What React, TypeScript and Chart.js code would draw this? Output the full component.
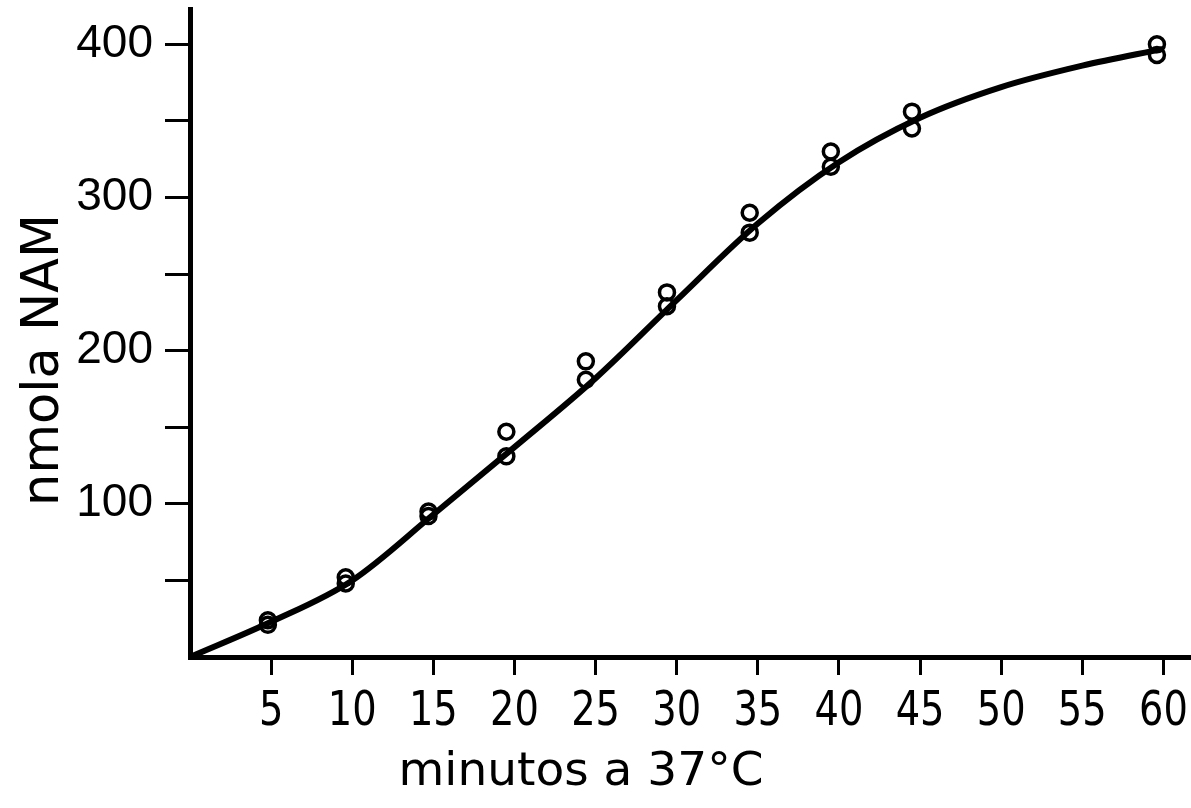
import React, { useEffect, useRef } from "react";
import { Chart, registerables } from "chart.js";

Chart.register(...registerables);

// Measured replicates (minutes at 37 °C vs nmol NAM)
const timeMin = [4.8, 9.6, 14.7, 19.5, 24.4, 29.4, 34.5, 39.5, 44.5, 59.6];
const replicateA = [24, 52, 95, 147, 193, 238, 290, 330, 356, 400];
const replicateB = [21, 48, 92, 131, 181, 229, 277, 320, 345, 393];

// Hand-drawn fitted curve
const curveX = [0, 5, 10, 15, 20, 25, 30, 35, 40, 45, 50, 55, 60];
const curveY = [0, 23, 50, 93, 137, 182, 233, 283, 323, 352, 372, 386, 397];

// Axis ticks
const xTickValues = [5, 10, 15, 20, 25, 30, 35, 40, 45, 50, 55, 60];
const yTickValues = [50, 100, 150, 200, 250, 300, 350, 400];
const yLabelledTicks = [100, 200, 300, 400];

const xTitle = "minutos a 37°C";
const yTitle = "nmola NAM";

// Draws the narrow x tick labels and the two axis titles
const textPlugin = {
  id: "handText",
  afterDraw(chart: any) {
    const ctx = chart.ctx;
    const xs = chart.scales.x;
    ctx.save();
    ctx.fillStyle = "#000";
    ctx.textAlign = "center";
    ctx.textBaseline = "alphabetic";
    ctx.font = "48px 'DejaVu Sans'";
    const sx = 0.8;
    xTickValues.forEach((v) => {
      const px = xs.getPixelForValue(v);
      ctx.save();
      ctx.translate(px, 725);
      ctx.scale(sx, 1);
      ctx.fillText(String(v), 0, 0);
      ctx.restore();
    });
    ctx.textBaseline = "middle";
    ctx.font = "47px 'DejaVu Sans'";
    ctx.fillText(xTitle, 581, 773);
    ctx.translate(45, 360);
    ctx.rotate(-Math.PI / 2);
    ctx.font = "51px 'DejaVu Sans'";
    ctx.fillText(yTitle, 0, 0);
    ctx.restore();
  },
};

export default function App() {
  const canvasRef = useRef<HTMLCanvasElement | null>(null);

  useEffect(() => {
    document.body.style.margin = "0";
    const canvas = canvasRef.current;
    if (!canvas) return;

    const points = [
      ...timeMin.map((x, i) => ({ x, y: replicateA[i] })),
      ...timeMin.map((x, i) => ({ x, y: replicateB[i] })),
    ];
    const curve = curveX.map((x, i) => ({ x, y: curveY[i] }));

    const chart = new Chart(canvas, {
      type: "scatter",
      data: {
        datasets: [
          {
            label: "curve",
            data: curve,
            showLine: true,
            borderColor: "#000",
            borderWidth: 6,
            pointRadius: 0,
            cubicInterpolationMode: "monotone",
            fill: false,
          },
          {
            label: "replicates",
            data: points,
            showLine: false,
            pointRadius: 7.5,
            pointBorderWidth: 3.5,
            pointBorderColor: "#000",
            pointBackgroundColor: "rgba(0,0,0,0)",
          },
        ],
      },
      options: {
        responsive: false,
        animation: false,
        layout: { autoPadding: false, padding: { top: 9, right: 0, left: 0, bottom: 0 } },
        plugins: {
          legend: { display: false },
          tooltip: { enabled: false },
        },
        scales: {
          x: {
            type: "linear",
            min: 0,
            max: 61.7,
            afterBuildTicks: (scale: any) => {
              scale.ticks = xTickValues.map((v) => ({ value: v }));
            },
            afterFit: (scale: any) => {
              scale.height = 151;
            },
            border: { display: true, color: "#000", width: 5 },
            grid: {
              drawOnChartArea: false,
              drawTicks: true,
              tickLength: 18,
              tickWidth: 3,
              tickColor: "#000",
            },
            ticks: { display: false },
          },
          y: {
            type: "linear",
            min: 0,
            max: 423,
            afterBuildTicks: (scale: any) => {
              scale.ticks = yTickValues.map((v) => ({ value: v }));
            },
            afterFit: (scale: any) => {
              scale.width = 190;
              scale.paddingTop = 0;
              scale.paddingBottom = 0;
            },
            border: { display: true, color: "#000", width: 5 },
            grid: {
              drawOnChartArea: false,
              drawTicks: true,
              tickLength: 25,
              tickWidth: 3,
              tickColor: "#000",
            },
            ticks: {
              autoSkip: false,
              color: "#000",
              padding: 12,
              font: { family: "'Liberation Sans'", size: 46 },
              callback: (v: any) => (yLabelledTicks.includes(Number(v)) ? String(v) : ""),
            },
          },
        },
      },
      plugins: [textPlugin],
    });

    return () => chart.destroy();
  }, []);

  return (
    <div style={{ width: 1191, height: 808, background: "#fff" }}>
      <canvas ref={canvasRef} width={1191} height={808} style={{ display: "block" }} />
    </div>
  );
}
